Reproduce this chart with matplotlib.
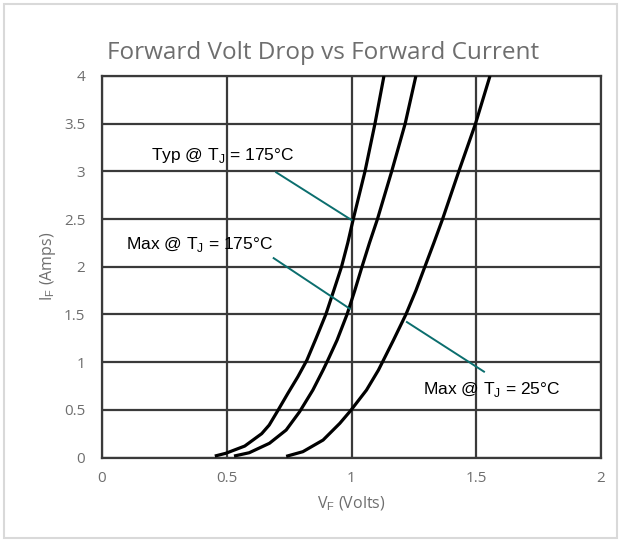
import numpy as np
import matplotlib.pyplot as plt
from matplotlib.patches import Rectangle

plt.rcParams['mathtext.fontset'] = 'custom'
plt.rcParams['mathtext.rm'] = 'Liberation Sans'

# --- datos ---
v_typ_175 = [0.452, 0.496, 0.572, 0.64, 0.67, 0.702, 0.745, 0.785, 0.821, 0.858, 0.897,
             0.93, 0.96, 0.985, 1.007, 1.054, 1.094, 1.13]
i_typ_175 = [0.015, 0.044, 0.12, 0.25, 0.34, 0.48, 0.673, 0.847, 1.02, 1.25, 1.5,
             1.76, 2.0, 2.25, 2.5, 3.0, 3.5, 4.0]
v_max_175 = [0.529, 0.59, 0.671, 0.738, 0.792, 0.845, 0.886, 0.905, 0.942, 0.982,
             1.013, 1.042, 1.072, 1.104, 1.161, 1.215, 1.258]
i_max_175 = [0.015, 0.05, 0.149, 0.288, 0.48, 0.707, 0.917, 1.02, 1.23, 1.5,
             1.75, 2.0, 2.25, 2.5, 3.0, 3.5, 4.0]
v_max_25 = [0.738, 0.805, 0.886, 0.953, 0.996, 1.06, 1.108, 1.168, 1.218, 1.258,
            1.294, 1.33, 1.365, 1.43, 1.497, 1.555]
i_max_25 = [0.012, 0.061, 0.183, 0.358, 0.49, 0.707, 0.917, 1.23, 1.5, 1.75,
            2.0, 2.25, 2.5, 3.0, 3.5, 4.0]

x_ticks = [0, 0.5, 1, 1.5, 2]
x_labels = ["0", "0.5", "1", "1.5", "2"]
y_ticks = [0, 0.5, 1, 1.5, 2, 2.5, 3, 3.5, 4]
y_labels = ["0", "0.5", "1", "1.5", "2", "2.5", "3", "3.5", "4"]

# etiquetas: texto, posicion del texto, linea (desde, hasta)
notas = [
    ("Typ @ T$_\\mathrm{J}$ = 175°C", (0.195, 3.17), (0.698, 2.99), (1.0, 2.49)),
    ("Max @ T$_\\mathrm{J}$ = 175°C", (0.095, 2.23), (0.688, 2.09), (0.993, 1.56)),
    ("Max @ T$_\\mathrm{J}$ = 25°C", (1.285, 0.71), (1.222, 1.42), (1.531, 0.90)),
]

gris = "#6e6e6e"
fig = plt.figure(figsize=(6.21, 5.42), dpi=100)
fig.patches.append(Rectangle((0.007, 0.008), 0.986, 0.984, transform=fig.transFigure,
                             fill=False, edgecolor="#d9d9d9", lw=1.5))
ax = fig.add_axes([0.1643, 0.1559, 0.8035, 0.7039])

for v, i in ((v_typ_175, i_typ_175), (v_max_175, i_max_175), (v_max_25, i_max_25)):
    ax.plot(v, i, color="black", lw=2.3, solid_capstyle="butt", solid_joinstyle="round", zorder=3)

for txt, pos, p0, p1 in notas:
    ax.plot([p0[0], p1[0]], [p0[1], p1[1]], color="#0b6e6e", lw=1.4, zorder=4)
    ax.text(pos[0], pos[1], txt, family="Liberation Sans", fontsize=12.5,
            va="center", ha="left", color="black", zorder=5)

ax.set_xlim(0, 2)
ax.set_ylim(0, 4)
ax.set_xticks(x_ticks, x_labels)
ax.set_yticks(y_ticks, y_labels)
ax.grid(True, color="#3a3a3a", lw=1.6)
ax.set_axisbelow(True)
for s in ax.spines.values():
    s.set_color("#3a3a3a")
    s.set_linewidth(1.6)
ax.tick_params(length=0, labelsize=11, labelcolor=gris)
ax.tick_params(axis="x", pad=10)
ax.tick_params(axis="y", pad=12)
for lab in ax.get_xticklabels() + ax.get_yticklabels():
    lab.set_family("Open Sans")

ax.set_xlabel("V$_\\mathrm{F}$ (Volts)", family="Open Sans", fontsize=11.5, color=gris, labelpad=6)
ax.set_ylabel("I$_\\mathrm{F}$ (Amps)", family="Open Sans", fontsize=11.5, color=gris, labelpad=4)
fig.text(0.521, 0.902, "Forward Volt Drop vs Forward Current", family="Open Sans",
         fontsize=17.5, color=gris, ha="center", va="center")

fig.savefig("out.png", dpi=100)
